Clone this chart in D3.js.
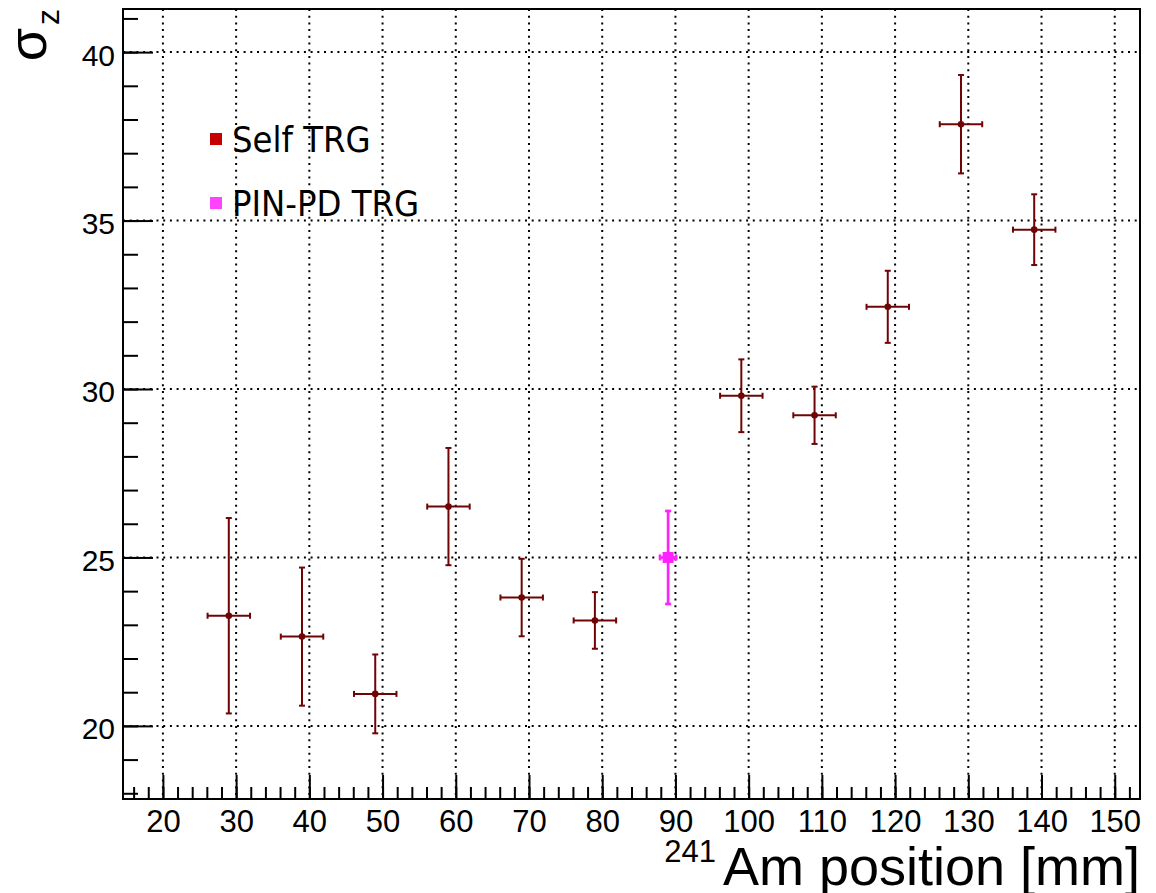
<!DOCTYPE html>
<html>
<head>
<meta charset="utf-8">
<script src="https://cdn.jsdelivr.net/npm/d3@7"></script>
<style>
  body { margin: 0; background: #fff; }
  svg { display: block; }
</style>
</head>
<body>
<div id="grafico"></div>
<script>
// 1. Datos
const selfX  = [29, 39, 49, 59, 69, 79, 99, 109, 119, 129, 139];
const selfY  = [23.27, 22.65, 20.95, 26.51, 23.81, 23.13, 29.80, 29.22, 32.44, 37.86, 34.73];
const selfEx = [2.9, 2.9, 2.9, 2.9, 2.9, 2.9, 2.9, 2.9, 2.9, 2.9, 2.9];
const selfEy = [2.90, 2.05, 1.17, 1.74, 1.15, 0.84, 1.08, 0.85, 1.07, 1.46, 1.05];

const pinX  = [89];
const pinY  = [25.0];
const pinEx = [1.1];
const pinEy = [1.38];

const xTicks      = [20, 30, 40, 50, 60, 70, 80, 90, 100, 110, 120, 130, 140, 150];
const xMinorTicks = d3.range(16, 153, 2);
const yTicks      = [20, 25, 30, 35, 40];
const yMinorTicks = d3.range(18, 42, 1);

const legendLabels = ['Self TRG', 'PIN-PD TRG'];

// 2. Configuracion
const ANCHO = 1156, ALTO = 893;
const COLOR_SELF   = '#6e0404';
const COLOR_PIN    = '#ff22ff';
const LEGEND_COLOR = ['#c40000', '#ff44ff'];
const FUENTE = '"Liberation Sans", Arial, Helvetica, sans-serif';

const margins = { top: 9, left: 123, right: 16, bottom: 94 };

const fx = d3.scaleLinear().domain([14.55, 153.45]).range([margins.left, ANCHO - margins.right]);
const fy = d3.scaleLinear().domain([17.83, 41.28]).range([ALTO - margins.bottom, margins.top]);

const svg = d3.select('#grafico').append('svg')
  .attr('width', ANCHO).attr('height', ALTO)
  .style('background', '#fff');

const x0 = fx.range()[0], x1 = fx.range()[1];
const y0 = fy.range()[0], y1 = fy.range()[1];

// rejilla punteada
const grid = svg.append('g');
grid.selectAll('line.gx').data(xTicks).enter().append('line')
  .attr('x1', d => fx(d)).attr('x2', d => fx(d))
  .attr('y1', y1).attr('y2', y0)
  .attr('stroke', '#000').attr('stroke-width', 2)
  .attr('stroke-dasharray', '2 4.7');
grid.selectAll('line.gy').data(yTicks).enter().append('line')
  .attr('x1', x0).attr('x2', x1)
  .attr('y1', d => fy(d)).attr('y2', d => fy(d))
  .attr('stroke', '#000').attr('stroke-width', 2)
  .attr('stroke-dasharray', '2 4.7');

// ejes (ticks hacia adentro)
const ejeX = svg.append('g').attr('transform', `translate(0,${y0})`)
  .call(d3.axisBottom(fx).tickValues(xTicks).tickSizeInner(-24).tickSizeOuter(0).tickPadding(11));
svg.append('g').attr('transform', `translate(0,${y0})`)
  .call(d3.axisBottom(fx).tickValues(xMinorTicks).tickSizeInner(-12).tickSizeOuter(0).tickFormat(''));

const ejeY = svg.append('g').attr('transform', `translate(${x0},0)`)
  .call(d3.axisLeft(fy).tickValues(yTicks).tickSizeInner(-30).tickSizeOuter(0).tickPadding(8));
svg.append('g').attr('transform', `translate(${x0},0)`)
  .call(d3.axisLeft(fy).tickValues(yMinorTicks).tickSizeInner(-15).tickSizeOuter(0).tickFormat(''));

svg.selectAll('.domain').remove();
svg.selectAll('.tick line').attr('stroke', '#000').attr('stroke-width', 2);

ejeX.selectAll('text').attr('font-family', FUENTE).attr('font-size', 31).attr('fill', '#000');
ejeY.selectAll('text').attr('font-family', FUENTE).attr('font-size', 30).attr('fill', '#000').attr('dy', '0.43em');

// marco
svg.append('rect')
  .attr('x', x0).attr('y', y1)
  .attr('width', x1 - x0).attr('height', y0 - y1)
  .attr('fill', 'none').attr('stroke', '#000').attr('stroke-width', 2);

// titulos
svg.append('text')
  .attr('x', x1).attr('y', 885)
  .attr('text-anchor', 'end')
  .attr('font-family', FUENTE).attr('font-size', 54)
  .text('Am position [mm]');
svg.append('text')
  .attr('x', x1 - 424).attr('y', 862)
  .attr('text-anchor', 'end')
  .attr('font-family', FUENTE).attr('font-size', 31)
  .text('241');

const tituloY = svg.append('text')
  .attr('transform', `translate(46,${y1}) rotate(-90)`)
  .attr('text-anchor', 'end')
  .attr('font-family', FUENTE);
tituloY.append('tspan').attr('font-size', 54).text('σ');
tituloY.append('tspan').attr('font-size', 32).attr('dx', 3).attr('dy', 13).text('z');

// 3. barras de error
function dibujarSerie(xs, ys, exs, eys, color, ancho, clase) {
  const datos = xs.map((x, i) => ({ x: x, y: ys[i], ex: exs[i], ey: eys[i] }));
  const g = svg.append('g').attr('class', clase)
    .attr('stroke', color).attr('stroke-width', ancho);
  const cap = 3;

  g.selectAll('line.v').data(datos).enter().append('line')
    .attr('x1', d => fx(d.x)).attr('x2', d => fx(d.x))
    .attr('y1', d => fy(d.y + d.ey)).attr('y2', d => fy(d.y - d.ey));
  g.selectAll('line.h').data(datos).enter().append('line')
    .attr('x1', d => fx(d.x - d.ex)).attr('x2', d => fx(d.x + d.ex))
    .attr('y1', d => fy(d.y)).attr('y2', d => fy(d.y));

  // remates
  g.selectAll('line.ct').data(datos).enter().append('line')
    .attr('x1', d => fx(d.x) - cap).attr('x2', d => fx(d.x) + cap)
    .attr('y1', d => fy(d.y + d.ey)).attr('y2', d => fy(d.y + d.ey));
  g.selectAll('line.cb').data(datos).enter().append('line')
    .attr('x1', d => fx(d.x) - cap).attr('x2', d => fx(d.x) + cap)
    .attr('y1', d => fy(d.y - d.ey)).attr('y2', d => fy(d.y - d.ey));
  g.selectAll('line.cl').data(datos).enter().append('line')
    .attr('x1', d => fx(d.x - d.ex)).attr('x2', d => fx(d.x - d.ex))
    .attr('y1', d => fy(d.y) - cap).attr('y2', d => fy(d.y) + cap);
  g.selectAll('line.cr').data(datos).enter().append('line')
    .attr('x1', d => fx(d.x + d.ex)).attr('x2', d => fx(d.x + d.ex))
    .attr('y1', d => fy(d.y) - cap).attr('y2', d => fy(d.y) + cap);
  return { g: g, datos: datos };
}

const serieSelf = dibujarSerie(selfX, selfY, selfEx, selfEy, COLOR_SELF, 2, 'self');
serieSelf.g.selectAll('circle').data(serieSelf.datos).enter().append('circle')
  .attr('cx', d => fx(d.x)).attr('cy', d => fy(d.y)).attr('r', 3.3)
  .attr('fill', COLOR_SELF).attr('stroke', 'none');

const seriePin = dibujarSerie(pinX, pinY, pinEx, pinEy, COLOR_PIN, 2.7, 'pin');
seriePin.g.selectAll('rect').data(seriePin.datos).enter().append('rect')
  .attr('x', d => fx(d.x) - 5.5).attr('y', d => fy(d.y) - 5.5)
  .attr('width', 11).attr('height', 11)
  .attr('fill', COLOR_PIN).attr('stroke', 'none');

// 4. leyenda
const leyenda = svg.append('g').attr('transform', 'translate(210,133)');
const items = leyenda.selectAll('g').data(legendLabels).enter().append('g')
  .attr('transform', (d, i) => `translate(0,${i * 64})`);
items.append('rect')
  .attr('width', 12).attr('height', 12)
  .attr('fill', (d, i) => LEGEND_COLOR[i]);
items.append('text')
  .attr('x', 22).attr('y', 19)
  .attr('font-family', '"DejaVu Sans Condensed", "DejaVu Sans", sans-serif')
  .style('font-stretch', 'condensed')
  .attr('font-size', 36)
  .attr('fill', '#000')
  .text(d => d);
</script>
</body>
</html>
